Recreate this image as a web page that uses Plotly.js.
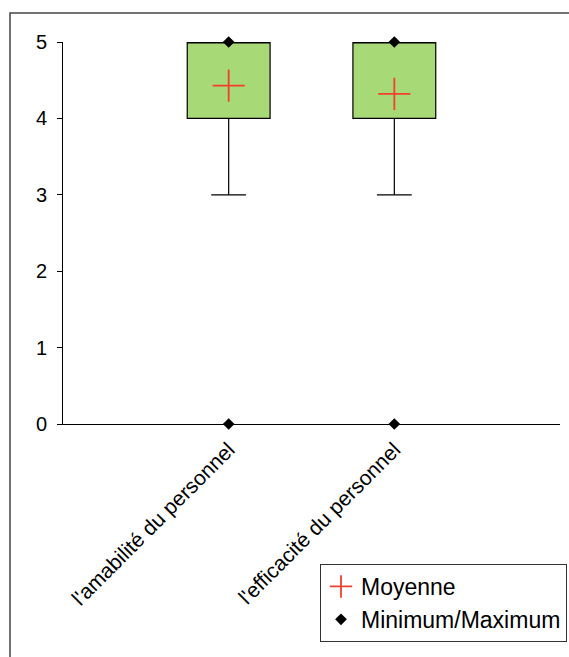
<!DOCTYPE html>
<html>
<head>
<meta charset="utf-8">
<script src="https://cdn.plot.ly/plotly-3.0.1.min.js"></script>
<style>
html,body{margin:0;padding:0;background:#fff;}
#chart{width:569px;height:657px;}
</style>
</head>
<body>
<div id="chart"></div>
<script>
// ---- data ----
var categories = ["l'amabilité du personnel", "l'efficacité du personnel"];
var q1 = [4, 4];
var median = [5, 5];
var q3 = [5, 5];
var lowerWhisker = [3, 3];
var upperWhisker = [5, 5];
var means = [4.43, 4.32];
var minimums = [0, 0];
var maximums = [5, 5];
var yTicks = [0, 1, 2, 3, 4, 5];

var FONT = '"Liberation Sans", Arial, sans-serif';

var boxTrace = {
  type: 'box',
  x: categories,
  q1: q1,
  median: median,
  q3: q3,
  lowerfence: lowerWhisker,
  upperfence: upperWhisker,
  boxpoints: false,
  width: 0.5,
  whiskerwidth: 0.42,
  fillcolor: '#A8D977',
  line: {color: '#000000', width: 1.2},
  showlegend: false,
  hoverinfo: 'skip'
};

var meanTrace = {
  type: 'scatter',
  mode: 'markers',
  name: 'Moyenne',
  x: categories,
  y: means,
  cliponaxis: false,
  marker: {symbol: 'cross-thin-open', size: 23, color: '#F0402F', line: {color: '#F0402F', width: 1.8}}
};

var minmaxX = categories.concat(categories);
var minmaxY = minimums.concat(maximums);
var minMaxTrace = {
  type: 'scatter',
  mode: 'markers',
  name: 'Minimum/Maximum',
  x: minmaxX,
  y: minmaxY,
  cliponaxis: false,
  marker: {symbol: 'diamond', size: 9, color: '#000000'}
};

var L = 63, R = 9, T = 42, B = 233;
var W = 569 - L - R, H = 657 - T - B;

var layout = {
  width: 569,
  height: 657,
  margin: {l: L, r: R, t: T, b: B, autoexpand: false},
  paper_bgcolor: '#ffffff',
  plot_bgcolor: '#ffffff',
  font: {family: FONT, size: 20, color: '#000000'},
  showlegend: true,
  xaxis: {
    type: 'category',
    range: [-1, 2],
    showline: true,
    linecolor: '#000000',
    linewidth: 1,
    ticks: 'outside',
    ticklen: 4,
    tickcolor: '#000000',
    tickangle: -45,
    showgrid: false,
    zeroline: false,
    tickfont: {family: FONT, size: 21, color: '#000000'}
  },
  yaxis: {
    range: [0, 5],
    tickvals: yTicks,
    showline: true,
    linecolor: '#000000',
    linewidth: 1,
    ticks: 'outside',
    ticklen: 5,
    tickcolor: '#000000',
    showgrid: false,
    zeroline: false,
    ticklabelstandoff: 6,
    tickfont: {family: FONT, size: 20, color: '#000000'}
  },
  legend: {
    x: (320 - L) / W,
    y: (424 - 564) / H,
    xanchor: 'left',
    yanchor: 'top',
    bgcolor: '#ffffff',
    bordercolor: '#333333',
    borderwidth: 1,
    itemwidth: 30,
    tracegroupgap: 0,
    font: {family: FONT, size: 23, color: '#000000'}
  },
  shapes: [{
    type: 'rect', xref: 'paper', yref: 'paper',
    x0: (10 - L) / W, x1: (600 - L) / W,
    y0: (424 - 700) / H, y1: (424 - 13) / H,
    line: {color: '#444444', width: 1.5},
    fillcolor: 'rgba(0,0,0,0)',
    layer: 'below'
  }]
};

Plotly.newPlot('chart', [boxTrace, meanTrace, minMaxTrace], layout, {displayModeBar: false, staticPlot: true});
</script>
</body>
</html>
